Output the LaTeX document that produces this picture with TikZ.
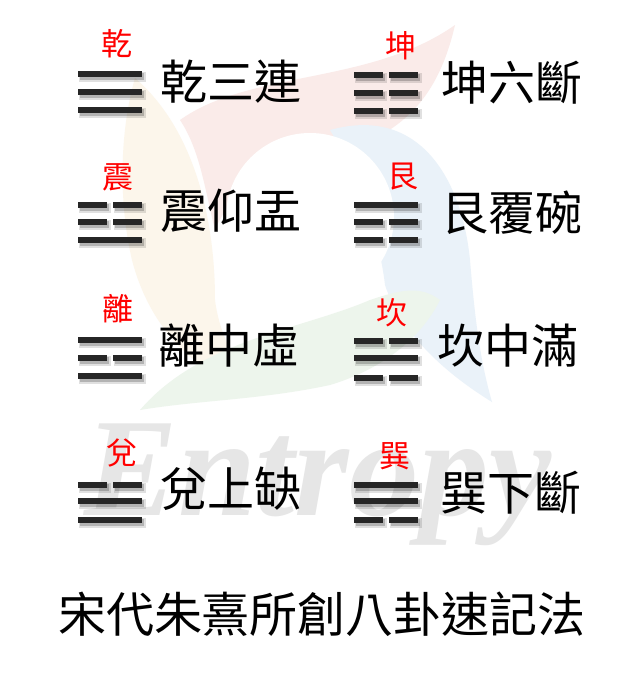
\documentclass[tikz,border=0pt]{standalone}
\usepackage{fontspec}
\newfontfamily\cjk{Noto Sans CJK TC}
\newfontfamily\wmfont{Liberation Serif}
\definecolor{barc}{HTML}{262626}
\definecolor{pinkw}{HTML}{FAEBE9}
\definecolor{bluew}{HTML}{EAF2F9}
\definecolor{greenw}{HTML}{EDF5EC}
\definecolor{yelw}{HTML}{FCF6EB}
\definecolor{wmgray}{HTML}{E6E6E6}
\tikzset{
  mainlbl/.style={font=\cjk\fontsize{47}{50}\selectfont, text=black, anchor=west, inner sep=0pt},
  redlbl/.style={font=\cjk\fontsize{31}{33}\selectfont, text=red, inner sep=0pt},
  titlelbl/.style={font=\cjk\fontsize{48}{52}\selectfont, text=black, inner sep=0pt},
}
% full bar: #1 x-left, #2 y-center
\newcommand\yangbar[2]{%
  \fill[black,opacity=.12] (#1+1,#2-2) rectangle (#1+68,#2+8);
  \fill[black,opacity=.2] (#1+2,#2-1) rectangle (#1+66,#2+6);
  \fill[barc] (#1,#2-3) rectangle (#1+64,#2+3);
}
\newcommand\yinbar[2]{%
  \fill[black,opacity=.12] (#1+1,#2-2) rectangle (#1+33,#2+8);
  \fill[black,opacity=.2] (#1+2,#2-1) rectangle (#1+31,#2+6);
  \fill[barc] (#1,#2-3) rectangle (#1+29,#2+3);
  \fill[black,opacity=.12] (#1+36,#2-2) rectangle (#1+68,#2+8);
  \fill[black,opacity=.2] (#1+37,#2-1) rectangle (#1+66,#2+6);
  \fill[barc] (#1+35,#2-3) rectangle (#1+64,#2+3);
}
\begin{document}
\begin{tikzpicture}[x=1pt,y=-1pt]
\useasboundingbox[fill=white] (0,0) rectangle (639,678);
% watermark swirl
\fill[yelw] (135,78) .. controls (195,130) and (215,220) .. (215,300)
  .. controls (220,340) and (240,370) .. (260,390)
  .. controls (200,380) and (150,330) .. (132,260)
  .. controls (118,200) and (120,130) .. (135,78) -- cycle;
\fill[pinkw] (180,120) .. controls (250,70) and (370,85) .. (455,25)
  .. controls (440,90) and (410,125) .. (360,145)
  .. controls (300,160) and (240,170) .. (215,230)
  .. controls (205,190) and (200,150) .. (180,120) -- cycle;
\fill[bluew] (330,130) .. controls (420,105) and (462,180) .. (470,260)
  .. controls (475,320) and (480,360) .. (492,402)
  .. controls (440,370) and (400,330) .. (385,285)
  .. controls (380,240) and (360,180) .. (330,130) -- cycle;
\fill[greenw] (140,410) .. controls (200,340) and (300,330) .. (370,300)
  .. controls (400,290) and (420,285) .. (440,300)
  .. controls (420,340) and (380,370) .. (330,385)
  .. controls (260,400) and (200,400) .. (140,410) -- cycle;
\fill[white] (310,217) circle (84);
\node[font=\wmfont\bfseries\itshape\fontsize{140}{140}\selectfont, text=wmgray, inner sep=0pt] (wm) at (318,485) {Entropy};
% row 1
\node[redlbl] (r1) at (117,44) {乾};
\yangbar{78}{74}\yangbar{78}{92}\yangbar{78}{110}
\node[mainlbl] (m1) at (160,82) {乾三連};
\node[redlbl] (r2) at (401,46) {坤};
\yinbar{354}{75}\yinbar{354}{93}\yinbar{354}{111}
\node[mainlbl] (m2) at (441,83) {坤六斷};
% row 2
\node[redlbl] (r3) at (118,177) {震};
\yinbar{78}{205}\yinbar{78}{222}\yangbar{78}{240}
\node[mainlbl] (m3) at (160,211) {震仰盂};
\node[redlbl] (r4) at (403,177) {艮};
\yangbar{354}{205}\yinbar{354}{222}\yinbar{354}{240}
\node[mainlbl] (m4) at (441,213) {艮覆碗};
% row 3
\node[redlbl] (r5) at (118,309) {離};
\yangbar{78}{340}\yinbar{78}{358}\yangbar{78}{376}
\node[mainlbl] (m5) at (158,346) {離中虛};
\node[redlbl] (r6) at (392,313) {坎};
\yinbar{354}{341}\yangbar{354}{358}\yinbar{354}{378}
\node[mainlbl] (m6) at (437,346) {坎中滿};
% row 4
\node[redlbl] (r7) at (122,453) {兌};
\yinbar{78}{485}\yangbar{78}{501}\yangbar{78}{520}
\node[mainlbl] (m7) at (160,489) {兌上缺};
\node[redlbl] (r8) at (395,456) {巽};
\yangbar{354}{485}\yangbar{354}{501}\yinbar{354}{520}
\node[mainlbl] (m8) at (440,493) {巽下斷};
% title
\node[titlelbl] (t) at (322,614) {宋代朱熹所創八卦速記法};
\end{tikzpicture}
\end{document}
